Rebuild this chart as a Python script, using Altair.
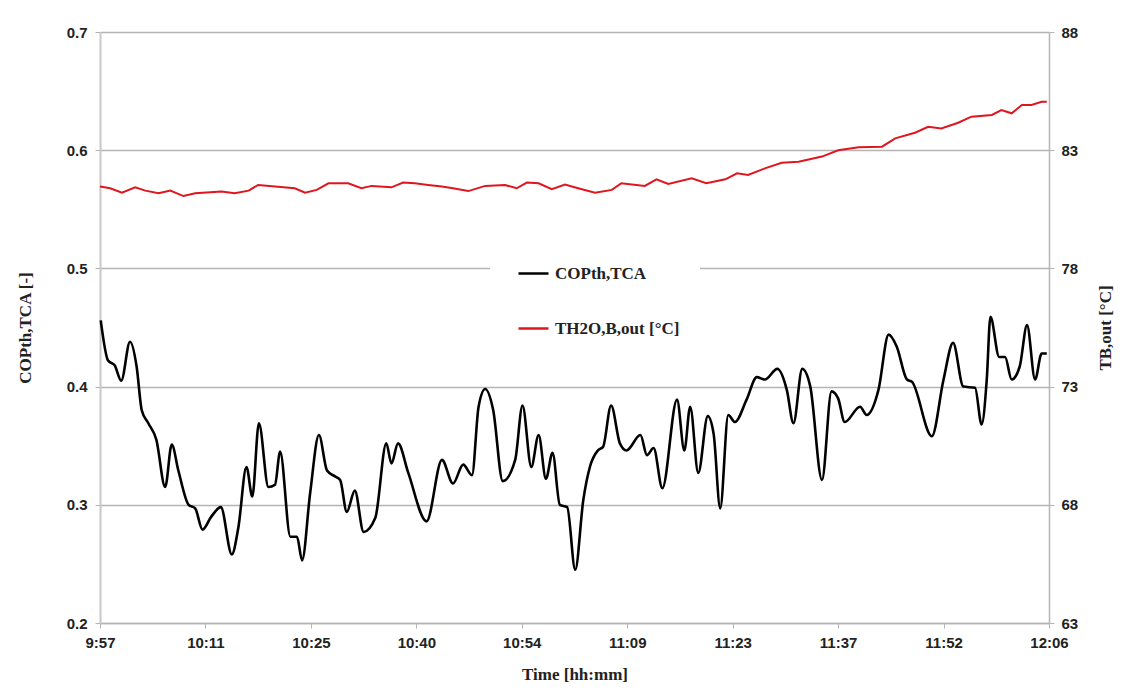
import json
import altair as alt
import pandas as pd

# ---- data (time in minutes after 9:57) ----
cop_time = [0.1, 1.1, 2.0, 2.9, 4.1, 5.0, 5.7, 6.6, 7.7, 8.9, 9.8, 10.7, 12.1, 13.0, 14.0,
            15.2, 16.5, 18.0, 18.9, 20.0, 20.8, 21.7, 23.0, 23.9, 24.6, 26.0, 26.9, 27.6,
            28.7, 29.9, 31.0, 32.1, 32.8, 33.7, 34.8, 36.0, 37.6, 39.1, 39.8, 40.7, 42.1,
            44.6, 46.7, 48.2, 49.6, 50.8, 51.7, 52.6, 53.7, 55.0, 56.7, 57.7, 58.9, 59.9,
            60.9, 61.8, 62.8, 63.8, 64.9, 66.0, 66.9, 68.0, 68.7, 69.8, 71.0, 71.9, 73.8,
            74.7, 75.6, 76.8, 78.8, 79.8, 80.6, 81.7, 83.0, 83.8, 84.7, 85.8, 86.7, 88.3,
            89.7, 90.8, 92.5, 93.8, 94.7, 95.9, 97.0, 98.6, 99.9, 100.8, 101.7, 103.8,
            104.7, 106.3, 107.7, 108.8, 110.2, 110.9, 113.6, 115.2, 116.5, 117.9, 119.5,
            120.4, 121.1, 121.6, 122.8, 123.6, 124.5, 125.6, 126.6, 127.7, 128.6, 129.3]
cop_value = [0.456, 0.422, 0.418, 0.405, 0.438, 0.417, 0.380, 0.369, 0.355, 0.315, 0.351,
             0.329, 0.300, 0.297, 0.279, 0.290, 0.298, 0.258, 0.281, 0.332, 0.307, 0.369,
             0.315, 0.317, 0.345, 0.273, 0.273, 0.253, 0.310, 0.359, 0.329, 0.324, 0.321,
             0.294, 0.312, 0.277, 0.289, 0.352, 0.335, 0.352, 0.327, 0.286, 0.338, 0.318,
             0.334, 0.325, 0.383, 0.398, 0.380, 0.320, 0.338, 0.384, 0.332, 0.359, 0.322,
             0.344, 0.300, 0.298, 0.245, 0.304, 0.332, 0.346, 0.349, 0.384, 0.352, 0.346,
             0.359, 0.342, 0.348, 0.314, 0.389, 0.346, 0.383, 0.327, 0.375, 0.360, 0.297,
             0.376, 0.370, 0.389, 0.408, 0.406, 0.415, 0.397, 0.369, 0.415, 0.400, 0.321,
             0.396, 0.390, 0.370, 0.383, 0.376, 0.397, 0.444, 0.434, 0.406, 0.404, 0.358,
             0.406, 0.437, 0.400, 0.399, 0.368, 0.406, 0.459, 0.425, 0.425, 0.406, 0.417,
             0.452, 0.406, 0.428, 0.428]

temp_time = [0.0, 1.4, 3.0, 4.8, 6.2, 8.0, 9.6, 11.4, 13.0, 16.6, 18.4, 20.3, 21.6, 23.9,
             26.6, 28.0, 29.6, 31.2, 33.9, 35.7, 37.1, 39.8, 41.4, 43.0, 44.8, 46.7, 48.2,
             50.3, 52.6, 55.3, 56.9, 58.3, 59.9, 61.7, 63.5, 65.3, 67.6, 69.9, 71.2, 74.4,
             76.0, 77.6, 80.8, 82.8, 85.4, 87.0, 88.5, 90.8, 93.1, 95.4, 98.6, 100.8, 103.6,
             106.8, 108.6, 111.3, 113.1, 114.9, 117.2, 119.0, 121.8, 123.1, 124.5, 125.9,
             127.2, 128.6, 129.3]
temp_value = [81.46, 81.39, 81.20, 81.43, 81.29, 81.18, 81.29, 81.06, 81.18, 81.25, 81.18,
              81.29, 81.53, 81.46, 81.39, 81.20, 81.32, 81.60, 81.60, 81.39, 81.49, 81.43,
              81.63, 81.60, 81.53, 81.46, 81.39, 81.27, 81.49, 81.53, 81.39, 81.63, 81.60,
              81.35, 81.55, 81.39, 81.20, 81.32, 81.60, 81.49, 81.77, 81.57, 81.81, 81.60,
              81.77, 82.02, 81.95, 82.23, 82.47, 82.51, 82.73, 83.00, 83.12, 83.15, 83.50,
              83.74, 83.99, 83.92, 84.16, 84.42, 84.49, 84.70, 84.56, 84.91, 84.91, 85.05,
              85.05]

series_names = ["COPth,TCA", "TH2O,B,out [°C]"]
series_colors = ["#000000", "#e0161e"]

tick_minutes = [0, 14.4, 28.8, 43.2, 57.6, 72.0, 86.4, 100.8, 115.2, 129.6]
tick_labels = ["9:57", "10:11", "10:25", "10:40", "10:54", "11:09", "11:23", "11:37", "11:52", "12:06"]

cop_df = pd.DataFrame({"t": cop_time, "v": cop_value, "series": series_names[0]})
temp_df = pd.DataFrame({"t": temp_time, "v": temp_value, "series": series_names[1]})

LABEL_FONT = "Liberation Sans"
TITLE_FONT = "Liberation Serif"
GRID = "#b4b4b4"
TXT = "#222222"

label_expr = json.dumps(tick_labels) + "[round(datum.value / 14.4)]"

x_enc = alt.X(
    "t:Q",
    scale=alt.Scale(domain=[0, 129.6], nice=False, zero=False),
    axis=alt.Axis(
        values=tick_minutes, labelExpr=label_expr, title="Time [hh:mm]",
        grid=False, domainColor=GRID, domainWidth=1.5, tickColor=GRID, tickSize=5,
        labelFont=LABEL_FONT, labelFontWeight="bold", labelFontSize=15, labelColor=TXT,
        labelPadding=7, titleFont=TITLE_FONT, titleFontWeight="bold", titleFontSize=17,
        titleColor=TXT, titlePadding=16, labelFlush=False,
    ),
)

color_enc = alt.Color(
    "series:N",
    scale=alt.Scale(domain=series_names, range=series_colors),
    legend=alt.Legend(
        title=None, orient="none", legendX=390, legendY=205, fillColor="white",
        padding=20, symbolType="stroke", symbolSize=900, symbolStrokeWidth=2.5,
        symbolOffset=7, rowPadding=30, labelFont=TITLE_FONT, labelFontWeight="bold",
        labelFontSize=17, labelColor=TXT, labelOffset=5,
    ),
)

cop_line = alt.Chart(cop_df).mark_line(strokeWidth=2.6, interpolate="monotone").encode(
    x=x_enc,
    y=alt.Y(
        "v:Q",
        scale=alt.Scale(domain=[0.2, 0.7], nice=False, zero=False),
        axis=alt.Axis(
            orient="left", values=[0.2, 0.3, 0.4, 0.5, 0.6, 0.7], format=".1f",
            title="COPth,TCA [-]", grid=True, gridColor=GRID, gridWidth=1.5,
            domainColor="#c8c8c8", domainWidth=2, tickColor=GRID, tickSize=5,
            labelFont=LABEL_FONT, labelFontWeight="bold", labelFontSize=15,
            labelColor=TXT, labelPadding=8, titleFont=TITLE_FONT,
            titleFontWeight="bold", titleFontSize=17, titleColor=TXT,
            titlePadding=32,
        ),
    ),
    color=color_enc,
)

temp_line = alt.Chart(temp_df).mark_line(strokeWidth=2).encode(
    x=x_enc,
    y=alt.Y(
        "v:Q",
        scale=alt.Scale(domain=[63, 88], nice=False, zero=False),
        axis=alt.Axis(
            orient="right", values=[63, 68, 73, 78, 83, 88], title="TB,out [°C]",
            grid=False, domainColor=GRID, domainWidth=1.5, tickColor=GRID, tickSize=5,
            labelFont=LABEL_FONT, labelFontWeight="bold", labelFontSize=15,
            labelColor=TXT, labelPadding=7, titleFont=TITLE_FONT,
            titleFontWeight="bold", titleFontSize=17, titleColor=TXT,
            titlePadding=37, titleAngle=270,
        ),
    ),
    color=color_enc,
)

chart = (
    alt.layer(cop_line, temp_line)
    .resolve_scale(y="independent")
    .properties(
        width=949, height=591,
        padding={"left": 92, "top": 24, "right": 66, "bottom": 66},
        autosize=alt.AutoSizeParams(type="none"),
        background="white",
    )
    .configure_view(stroke=None)
)

chart.save("out.html", embed_options={"renderer": "svg", "actions": False})
